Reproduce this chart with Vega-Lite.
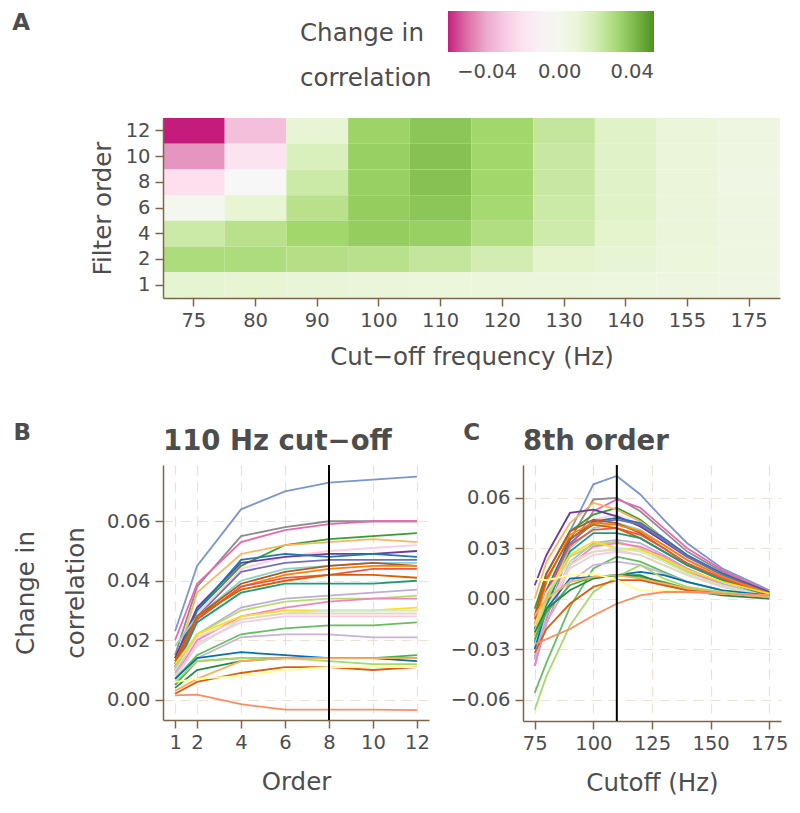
{
"$schema":"https://vega.github.io/schema/vega-lite/v6.json",
"background":"white",
"padding":{"left":12,"top":11,"right":10,"bottom":6},
"config":{"view":{"stroke":null},"font":"DejaVu Sans",
 "axis":{"domainColor":"#7d6549","domainWidth":1.5,"tickColor":"#7d6549","tickWidth":1.5,"tickSize":8,"labelColor":"#4d4d4d","labelFontSize":19.5,"titleFontSize":24.5,"titleFontWeight":"normal","titleColor":"#4d4d4d","gridColor":"#ede0d4","gridDash":[10,7],"gridWidth":1.2,"labelPadding":5},
 "title":{"fontWeight":"bold","color":"#4d4d4d"}},
"datasets":{
"heat":[
{"f":75,"o":12,"v":-0.0615},{"f":75,"o":10,"v":-0.045},{"f":75,"o":8,"v":-0.024},{"f":75,"o":6,"v":0.0},{"f":75,"o":4,"v":0.022},{"f":75,"o":2,"v":0.030},{"f":75,"o":1,"v":0.014},
{"f":80,"o":12,"v":-0.034},{"f":80,"o":10,"v":-0.021},{"f":80,"o":8,"v":-0.005},{"f":80,"o":6,"v":0.013},{"f":80,"o":4,"v":0.027},{"f":80,"o":2,"v":0.030},{"f":80,"o":1,"v":0.013},
{"f":90,"o":12,"v":0.012},{"f":90,"o":10,"v":0.018},{"f":90,"o":8,"v":0.022},{"f":90,"o":6,"v":0.027},{"f":90,"o":4,"v":0.033},{"f":90,"o":2,"v":0.028},{"f":90,"o":1,"v":0.011},
{"f":100,"o":12,"v":0.034},{"f":100,"o":10,"v":0.035},{"f":100,"o":8,"v":0.035},{"f":100,"o":6,"v":0.036},{"f":100,"o":4,"v":0.036},{"f":100,"o":2,"v":0.027},{"f":100,"o":1,"v":0.010},
{"f":110,"o":12,"v":0.038},{"f":110,"o":10,"v":0.039},{"f":110,"o":8,"v":0.039},{"f":110,"o":6,"v":0.038},{"f":110,"o":4,"v":0.035},{"f":110,"o":2,"v":0.024},{"f":110,"o":1,"v":0.009},
{"f":120,"o":12,"v":0.033},{"f":120,"o":10,"v":0.033},{"f":120,"o":8,"v":0.033},{"f":120,"o":6,"v":0.032},{"f":120,"o":4,"v":0.029},{"f":120,"o":2,"v":0.020},{"f":120,"o":1,"v":0.009},
{"f":130,"o":12,"v":0.024},{"f":130,"o":10,"v":0.023},{"f":130,"o":8,"v":0.023},{"f":130,"o":6,"v":0.022},{"f":130,"o":4,"v":0.021},{"f":130,"o":2,"v":0.015},{"f":130,"o":1,"v":0.008},
{"f":140,"o":12,"v":0.016},{"f":140,"o":10,"v":0.016},{"f":140,"o":8,"v":0.016},{"f":140,"o":6,"v":0.016},{"f":140,"o":4,"v":0.015},{"f":140,"o":2,"v":0.012},{"f":140,"o":1,"v":0.007},
{"f":155,"o":12,"v":0.010},{"f":155,"o":10,"v":0.010},{"f":155,"o":8,"v":0.010},{"f":155,"o":6,"v":0.010},{"f":155,"o":4,"v":0.010},{"f":155,"o":2,"v":0.009},{"f":155,"o":1,"v":0.006},
{"f":175,"o":12,"v":0.006},{"f":175,"o":10,"v":0.006},{"f":175,"o":8,"v":0.005},{"f":175,"o":6,"v":0.006},{"f":175,"o":4,"v":0.006},{"f":175,"o":2,"v":0.006},{"f":175,"o":1,"v":0.005}
],
"B":[
{"s":1,"x":1,"v":0.023},{"s":1,"x":2,"v":0.045},{"s":1,"x":4,"v":0.064},{"s":1,"x":6,"v":0.070},{"s":1,"x":8,"v":0.073},{"s":1,"x":10,"v":0.074},{"s":1,"x":12,"v":0.075},
{"s":2,"x":1,"v":0.015},{"s":2,"x":2,"v":0.038},{"s":2,"x":4,"v":0.055},{"s":2,"x":6,"v":0.058},{"s":2,"x":8,"v":0.060},{"s":2,"x":10,"v":0.060},{"s":2,"x":12,"v":0.060},
{"s":3,"x":1,"v":0.020},{"s":3,"x":2,"v":0.039},{"s":3,"x":4,"v":0.053},{"s":3,"x":6,"v":0.057},{"s":3,"x":8,"v":0.059},{"s":3,"x":10,"v":0.060},{"s":3,"x":12,"v":0.060},
{"s":4,"x":1,"v":0.014},{"s":4,"x":2,"v":0.030},{"s":4,"x":4,"v":0.045},{"s":4,"x":6,"v":0.052},{"s":4,"x":8,"v":0.054},{"s":4,"x":10,"v":0.055},{"s":4,"x":12,"v":0.056},
{"s":5,"x":1,"v":0.012},{"s":5,"x":2,"v":0.036},{"s":5,"x":4,"v":0.049},{"s":5,"x":6,"v":0.052},{"s":5,"x":8,"v":0.053},{"s":5,"x":10,"v":0.054},{"s":5,"x":12,"v":0.053},
{"s":6,"x":1,"v":0.013},{"s":6,"x":2,"v":0.029},{"s":6,"x":4,"v":0.044},{"s":6,"x":6,"v":0.048},{"s":6,"x":8,"v":0.050},{"s":6,"x":10,"v":0.051},{"s":6,"x":12,"v":0.052},
{"s":7,"x":1,"v":0.014},{"s":7,"x":2,"v":0.031},{"s":7,"x":4,"v":0.046},{"s":7,"x":6,"v":0.048},{"s":7,"x":8,"v":0.049},{"s":7,"x":10,"v":0.049},{"s":7,"x":12,"v":0.050},
{"s":8,"x":1,"v":0.012},{"s":8,"x":2,"v":0.030},{"s":8,"x":4,"v":0.047},{"s":8,"x":6,"v":0.049},{"s":8,"x":8,"v":0.048},{"s":8,"x":10,"v":0.049},{"s":8,"x":12,"v":0.048},
{"s":9,"x":1,"v":0.012},{"s":9,"x":2,"v":0.028},{"s":9,"x":4,"v":0.043},{"s":9,"x":6,"v":0.046},{"s":9,"x":8,"v":0.047},{"s":9,"x":10,"v":0.047},{"s":9,"x":12,"v":0.047},
{"s":10,"x":1,"v":0.018},{"s":10,"x":2,"v":0.028},{"s":10,"x":4,"v":0.040},{"s":10,"x":6,"v":0.044},{"s":10,"x":8,"v":0.045},{"s":10,"x":10,"v":0.046},{"s":10,"x":12,"v":0.046},
{"s":11,"x":1,"v":0.011},{"s":11,"x":2,"v":0.028},{"s":11,"x":4,"v":0.039},{"s":11,"x":6,"v":0.043},{"s":11,"x":8,"v":0.045},{"s":11,"x":10,"v":0.046},{"s":11,"x":12,"v":0.045},
{"s":12,"x":1,"v":0.010},{"s":12,"x":2,"v":0.027},{"s":12,"x":4,"v":0.038},{"s":12,"x":6,"v":0.042},{"s":12,"x":8,"v":0.044},{"s":12,"x":10,"v":0.045},{"s":12,"x":12,"v":0.045},
{"s":13,"x":1,"v":0.011},{"s":13,"x":2,"v":0.027},{"s":13,"x":4,"v":0.038},{"s":13,"x":6,"v":0.041},{"s":13,"x":8,"v":0.042},{"s":13,"x":10,"v":0.044},{"s":13,"x":12,"v":0.044},
{"s":14,"x":1,"v":0.013},{"s":14,"x":2,"v":0.028},{"s":14,"x":4,"v":0.037},{"s":14,"x":6,"v":0.040},{"s":14,"x":8,"v":0.042},{"s":14,"x":10,"v":0.042},{"s":14,"x":12,"v":0.041},
{"s":15,"x":1,"v":0.010},{"s":15,"x":2,"v":0.026},{"s":15,"x":4,"v":0.036},{"s":15,"x":6,"v":0.039},{"s":15,"x":8,"v":0.039},{"s":15,"x":10,"v":0.039},{"s":15,"x":12,"v":0.040},
{"s":16,"x":1,"v":0.009},{"s":16,"x":2,"v":0.022},{"s":16,"x":4,"v":0.031},{"s":16,"x":6,"v":0.034},{"s":16,"x":8,"v":0.035},{"s":16,"x":10,"v":0.036},{"s":16,"x":12,"v":0.037},
{"s":17,"x":1,"v":0.011},{"s":17,"x":2,"v":0.022},{"s":17,"x":4,"v":0.030},{"s":17,"x":6,"v":0.033},{"s":17,"x":8,"v":0.034},{"s":17,"x":10,"v":0.034},{"s":17,"x":12,"v":0.035},
{"s":18,"x":1,"v":0.008},{"s":18,"x":2,"v":0.020},{"s":18,"x":4,"v":0.028},{"s":18,"x":6,"v":0.031},{"s":18,"x":8,"v":0.033},{"s":18,"x":10,"v":0.034},{"s":18,"x":12,"v":0.034},
{"s":19,"x":1,"v":0.012},{"s":19,"x":2,"v":0.022},{"s":19,"x":4,"v":0.028},{"s":19,"x":6,"v":0.030},{"s":19,"x":8,"v":0.030},{"s":19,"x":10,"v":0.030},{"s":19,"x":12,"v":0.031},
{"s":20,"x":1,"v":0.008},{"s":20,"x":2,"v":0.018},{"s":20,"x":4,"v":0.027},{"s":20,"x":6,"v":0.029},{"s":20,"x":8,"v":0.030},{"s":20,"x":10,"v":0.030},{"s":20,"x":12,"v":0.030},
{"s":21,"x":1,"v":0.007},{"s":21,"x":2,"v":0.019},{"s":21,"x":4,"v":0.026},{"s":21,"x":6,"v":0.028},{"s":21,"x":8,"v":0.028},{"s":21,"x":10,"v":0.028},{"s":21,"x":12,"v":0.028},
{"s":22,"x":1,"v":0.010},{"s":22,"x":2,"v":0.021},{"s":22,"x":4,"v":0.027},{"s":22,"x":6,"v":0.029},{"s":22,"x":8,"v":0.029},{"s":22,"x":10,"v":0.029},{"s":22,"x":12,"v":0.029},
{"s":23,"x":1,"v":0.007},{"s":23,"x":2,"v":0.015},{"s":23,"x":4,"v":0.022},{"s":23,"x":6,"v":0.024},{"s":23,"x":8,"v":0.025},{"s":23,"x":10,"v":0.025},{"s":23,"x":12,"v":0.026},
{"s":24,"x":1,"v":0.005},{"s":24,"x":2,"v":0.014},{"s":24,"x":4,"v":0.021},{"s":24,"x":6,"v":0.022},{"s":24,"x":8,"v":0.022},{"s":24,"x":10,"v":0.021},{"s":24,"x":12,"v":0.021},
{"s":25,"x":1,"v":0.007},{"s":25,"x":2,"v":0.014},{"s":25,"x":4,"v":0.016},{"s":25,"x":6,"v":0.015},{"s":25,"x":8,"v":0.014},{"s":25,"x":10,"v":0.014},{"s":25,"x":12,"v":0.013},
{"s":26,"x":1,"v":0.005},{"s":26,"x":2,"v":0.013},{"s":26,"x":4,"v":0.014},{"s":26,"x":6,"v":0.014},{"s":26,"x":8,"v":0.014},{"s":26,"x":10,"v":0.014},{"s":26,"x":12,"v":0.015},
{"s":27,"x":1,"v":0.006},{"s":27,"x":2,"v":0.013},{"s":27,"x":4,"v":0.014},{"s":27,"x":6,"v":0.014},{"s":27,"x":8,"v":0.013},{"s":27,"x":10,"v":0.012},{"s":27,"x":12,"v":0.012},
{"s":28,"x":1,"v":0.004},{"s":28,"x":2,"v":0.010},{"s":28,"x":4,"v":0.013},{"s":28,"x":6,"v":0.014},{"s":28,"x":8,"v":0.014},{"s":28,"x":10,"v":0.014},{"s":28,"x":12,"v":0.014},
{"s":29,"x":1,"v":0.003},{"s":29,"x":2,"v":0.007},{"s":29,"x":4,"v":0.013},{"s":29,"x":6,"v":0.014},{"s":29,"x":8,"v":0.014},{"s":29,"x":10,"v":0.014},{"s":29,"x":12,"v":0.014},
{"s":30,"x":1,"v":0.002},{"s":30,"x":2,"v":0.006},{"s":30,"x":4,"v":0.009},{"s":30,"x":6,"v":0.011},{"s":30,"x":8,"v":0.011},{"s":30,"x":10,"v":0.010},{"s":30,"x":12,"v":0.011},
{"s":31,"x":1,"v":0.006},{"s":31,"x":2,"v":0.007},{"s":31,"x":4,"v":0.008},{"s":31,"x":6,"v":0.010},{"s":31,"x":8,"v":0.011},{"s":31,"x":10,"v":0.011},{"s":31,"x":12,"v":0.011},
{"s":32,"x":1,"v":0.0015},{"s":32,"x":2,"v":0.0017},{"s":32,"x":4,"v":-0.0015},{"s":32,"x":6,"v":-0.0033},{"s":32,"x":8,"v":-0.0033},{"s":32,"x":10,"v":-0.0033},{"s":32,"x":12,"v":-0.0035}
],
"C":[
{"s":1,"x":75,"v":-0.036},{"s":1,"x":80,"v":-0.010},{"s":1,"x":90,"v":0.040},{"s":1,"x":100,"v":0.068},{"s":1,"x":110,"v":0.073},{"s":1,"x":120,"v":0.062},{"s":1,"x":130,"v":0.047},{"s":1,"x":140,"v":0.033},{"s":1,"x":155,"v":0.018},{"s":1,"x":175,"v":0.005},
{"s":2,"x":75,"v":-0.030},{"s":2,"x":80,"v":-0.005},{"s":2,"x":90,"v":0.035},{"s":2,"x":100,"v":0.059},{"s":2,"x":110,"v":0.060},{"s":2,"x":120,"v":0.052},{"s":2,"x":130,"v":0.040},{"s":2,"x":140,"v":0.028},{"s":2,"x":155,"v":0.016},{"s":2,"x":175,"v":0.004},
{"s":3,"x":75,"v":-0.040},{"s":3,"x":80,"v":-0.012},{"s":3,"x":90,"v":0.030},{"s":3,"x":100,"v":0.052},{"s":3,"x":110,"v":0.059},{"s":3,"x":120,"v":0.054},{"s":3,"x":130,"v":0.042},{"s":3,"x":140,"v":0.030},{"s":3,"x":155,"v":0.017},{"s":3,"x":175,"v":0.004},
{"s":4,"x":75,"v":-0.006},{"s":4,"x":80,"v":0.015},{"s":4,"x":90,"v":0.040},{"s":4,"x":100,"v":0.050},{"s":4,"x":110,"v":0.054},{"s":4,"x":120,"v":0.047},{"s":4,"x":130,"v":0.036},{"s":4,"x":140,"v":0.025},{"s":4,"x":155,"v":0.014},{"s":4,"x":175,"v":0.002},
{"s":5,"x":75,"v":0.000},{"s":5,"x":80,"v":0.022},{"s":5,"x":90,"v":0.045},{"s":5,"x":100,"v":0.057},{"s":5,"x":110,"v":0.053},{"s":5,"x":120,"v":0.046},{"s":5,"x":130,"v":0.036},{"s":5,"x":140,"v":0.026},{"s":5,"x":155,"v":0.015},{"s":5,"x":175,"v":0.004},
{"s":6,"x":75,"v":-0.025},{"s":6,"x":80,"v":0.000},{"s":6,"x":90,"v":0.032},{"s":6,"x":100,"v":0.047},{"s":6,"x":110,"v":0.050},{"s":6,"x":120,"v":0.044},{"s":6,"x":130,"v":0.034},{"s":6,"x":140,"v":0.024},{"s":6,"x":155,"v":0.013},{"s":6,"x":175,"v":0.003},
{"s":7,"x":75,"v":0.008},{"s":7,"x":80,"v":0.026},{"s":7,"x":90,"v":0.051},{"s":7,"x":100,"v":0.053},{"s":7,"x":110,"v":0.049},{"s":7,"x":120,"v":0.043},{"s":7,"x":130,"v":0.034},{"s":7,"x":140,"v":0.025},{"s":7,"x":155,"v":0.015},{"s":7,"x":175,"v":0.004},
{"s":8,"x":75,"v":-0.018},{"s":8,"x":80,"v":0.005},{"s":8,"x":90,"v":0.035},{"s":8,"x":100,"v":0.046},{"s":8,"x":110,"v":0.048},{"s":8,"x":120,"v":0.045},{"s":8,"x":130,"v":0.036},{"s":8,"x":140,"v":0.026},{"s":8,"x":155,"v":0.015},{"s":8,"x":175,"v":0.003},
{"s":9,"x":75,"v":-0.022},{"s":9,"x":80,"v":0.002},{"s":9,"x":90,"v":0.033},{"s":9,"x":100,"v":0.045},{"s":9,"x":110,"v":0.047},{"s":9,"x":120,"v":0.044},{"s":9,"x":130,"v":0.035},{"s":9,"x":140,"v":0.025},{"s":9,"x":155,"v":0.014},{"s":9,"x":175,"v":0.003},
{"s":10,"x":75,"v":-0.026},{"s":10,"x":80,"v":-0.002},{"s":10,"x":90,"v":0.030},{"s":10,"x":100,"v":0.042},{"s":10,"x":110,"v":0.045},{"s":10,"x":120,"v":0.041},{"s":10,"x":130,"v":0.032},{"s":10,"x":140,"v":0.023},{"s":10,"x":155,"v":0.013},{"s":10,"x":175,"v":0.002},
{"s":11,"x":75,"v":-0.010},{"s":11,"x":80,"v":0.015},{"s":11,"x":90,"v":0.040},{"s":11,"x":100,"v":0.047},{"s":11,"x":110,"v":0.045},{"s":11,"x":120,"v":0.039},{"s":11,"x":130,"v":0.030},{"s":11,"x":140,"v":0.021},{"s":11,"x":155,"v":0.012},{"s":11,"x":175,"v":0.002},
{"s":12,"x":75,"v":-0.015},{"s":12,"x":80,"v":0.010},{"s":12,"x":90,"v":0.038},{"s":12,"x":100,"v":0.045},{"s":12,"x":110,"v":0.044},{"s":12,"x":120,"v":0.040},{"s":12,"x":130,"v":0.032},{"s":12,"x":140,"v":0.023},{"s":12,"x":155,"v":0.013},{"s":12,"x":175,"v":0.003},
{"s":13,"x":75,"v":-0.020},{"s":13,"x":80,"v":0.004},{"s":13,"x":90,"v":0.032},{"s":13,"x":100,"v":0.041},{"s":13,"x":110,"v":0.042},{"s":13,"x":120,"v":0.038},{"s":13,"x":130,"v":0.030},{"s":13,"x":140,"v":0.021},{"s":13,"x":155,"v":0.012},{"s":13,"x":175,"v":0.002},
{"s":14,"x":75,"v":-0.012},{"s":14,"x":80,"v":0.012},{"s":14,"x":90,"v":0.036},{"s":14,"x":100,"v":0.044},{"s":14,"x":110,"v":0.042},{"s":14,"x":120,"v":0.036},{"s":14,"x":130,"v":0.028},{"s":14,"x":140,"v":0.020},{"s":14,"x":155,"v":0.011},{"s":14,"x":175,"v":0.002},
{"s":15,"x":75,"v":-0.026},{"s":15,"x":80,"v":-0.004},{"s":15,"x":90,"v":0.028},{"s":15,"x":100,"v":0.039},{"s":15,"x":110,"v":0.039},{"s":15,"x":120,"v":0.036},{"s":15,"x":130,"v":0.028},{"s":15,"x":140,"v":0.020},{"s":15,"x":155,"v":0.011},{"s":15,"x":175,"v":0.001},
{"s":16,"x":75,"v":-0.034},{"s":16,"x":80,"v":-0.010},{"s":16,"x":90,"v":0.022},{"s":16,"x":100,"v":0.033},{"s":16,"x":110,"v":0.035},{"s":16,"x":120,"v":0.033},{"s":16,"x":130,"v":0.026},{"s":16,"x":140,"v":0.018},{"s":16,"x":155,"v":0.009},{"s":16,"x":175,"v":0.001},
{"s":17,"x":75,"v":-0.022},{"s":17,"x":80,"v":0.000},{"s":17,"x":90,"v":0.025},{"s":17,"x":100,"v":0.032},{"s":17,"x":110,"v":0.034},{"s":17,"x":120,"v":0.030},{"s":17,"x":130,"v":0.023},{"s":17,"x":140,"v":0.016},{"s":17,"x":155,"v":0.008},{"s":17,"x":175,"v":0.001},
{"s":18,"x":75,"v":-0.040},{"s":18,"x":80,"v":-0.015},{"s":18,"x":90,"v":0.020},{"s":18,"x":100,"v":0.031},{"s":18,"x":110,"v":0.033},{"s":18,"x":120,"v":0.031},{"s":18,"x":130,"v":0.025},{"s":18,"x":140,"v":0.017},{"s":18,"x":155,"v":0.008},{"s":18,"x":175,"v":0.000},
{"s":19,"x":75,"v":-0.020},{"s":19,"x":80,"v":0.003},{"s":19,"x":90,"v":0.026},{"s":19,"x":100,"v":0.034},{"s":19,"x":110,"v":0.030},{"s":19,"x":120,"v":0.029},{"s":19,"x":130,"v":0.024},{"s":19,"x":140,"v":0.017},{"s":19,"x":155,"v":0.010},{"s":19,"x":175,"v":0.003},
{"s":20,"x":75,"v":-0.028},{"s":20,"x":80,"v":-0.006},{"s":20,"x":90,"v":0.020},{"s":20,"x":100,"v":0.028},{"s":20,"x":110,"v":0.030},{"s":20,"x":120,"v":0.028},{"s":20,"x":130,"v":0.022},{"s":20,"x":140,"v":0.015},{"s":20,"x":155,"v":0.008},{"s":20,"x":175,"v":0.001},
{"s":21,"x":75,"v":-0.030},{"s":21,"x":80,"v":-0.008},{"s":21,"x":90,"v":0.018},{"s":21,"x":100,"v":0.026},{"s":21,"x":110,"v":0.028},{"s":21,"x":120,"v":0.026},{"s":21,"x":130,"v":0.020},{"s":21,"x":140,"v":0.014},{"s":21,"x":155,"v":0.007},{"s":21,"x":175,"v":0.000},
{"s":22,"x":75,"v":-0.016},{"s":22,"x":80,"v":0.004},{"s":22,"x":90,"v":0.022},{"s":22,"x":100,"v":0.028},{"s":22,"x":110,"v":0.029},{"s":22,"x":120,"v":0.026},{"s":22,"x":130,"v":0.020},{"s":22,"x":140,"v":0.014},{"s":22,"x":155,"v":0.007},{"s":22,"x":175,"v":0.001},
{"s":23,"x":75,"v":-0.056},{"s":23,"x":80,"v":-0.038},{"s":23,"x":90,"v":-0.005},{"s":23,"x":100,"v":0.018},{"s":23,"x":110,"v":0.025},{"s":23,"x":120,"v":0.022},{"s":23,"x":130,"v":0.016},{"s":23,"x":140,"v":0.010},{"s":23,"x":155,"v":0.005},{"s":23,"x":175,"v":0.001},
{"s":24,"x":75,"v":-0.036},{"s":24,"x":80,"v":-0.014},{"s":24,"x":90,"v":0.010},{"s":24,"x":100,"v":0.020},{"s":24,"x":110,"v":0.022},{"s":24,"x":120,"v":0.020},{"s":24,"x":130,"v":0.015},{"s":24,"x":140,"v":0.010},{"s":24,"x":155,"v":0.005},{"s":24,"x":175,"v":0.000},
{"s":25,"x":75,"v":-0.030},{"s":25,"x":80,"v":-0.006},{"s":25,"x":90,"v":0.012},{"s":25,"x":100,"v":0.013},{"s":25,"x":110,"v":0.014},{"s":25,"x":120,"v":0.016},{"s":25,"x":130,"v":0.014},{"s":25,"x":140,"v":0.010},{"s":25,"x":155,"v":0.005},{"s":25,"x":175,"v":0.002},
{"s":26,"x":75,"v":-0.024},{"s":26,"x":80,"v":-0.008},{"s":26,"x":90,"v":0.008},{"s":26,"x":100,"v":0.013},{"s":26,"x":110,"v":0.014},{"s":26,"x":120,"v":0.013},{"s":26,"x":130,"v":0.010},{"s":26,"x":140,"v":0.006},{"s":26,"x":155,"v":0.003},{"s":26,"x":175,"v":0.001},
{"s":27,"x":75,"v":-0.066},{"s":27,"x":80,"v":-0.046},{"s":27,"x":90,"v":-0.016},{"s":27,"x":100,"v":0.004},{"s":27,"x":110,"v":0.013},{"s":27,"x":120,"v":0.020},{"s":27,"x":130,"v":0.012},{"s":27,"x":140,"v":0.007},{"s":27,"x":155,"v":0.004},{"s":27,"x":175,"v":0.001},
{"s":28,"x":75,"v":-0.020},{"s":28,"x":80,"v":-0.006},{"s":28,"x":90,"v":0.005},{"s":28,"x":100,"v":0.012},{"s":28,"x":110,"v":0.014},{"s":28,"x":120,"v":0.014},{"s":28,"x":130,"v":0.009},{"s":28,"x":140,"v":0.005},{"s":28,"x":155,"v":0.002},{"s":28,"x":175,"v":0.000},
{"s":29,"x":75,"v":-0.010},{"s":29,"x":80,"v":0.000},{"s":29,"x":90,"v":0.010},{"s":29,"x":100,"v":0.013},{"s":29,"x":110,"v":0.014},{"s":29,"x":120,"v":0.012},{"s":29,"x":130,"v":0.009},{"s":29,"x":140,"v":0.006},{"s":29,"x":155,"v":0.003},{"s":29,"x":175,"v":0.001},
{"s":30,"x":75,"v":-0.032},{"s":30,"x":80,"v":-0.018},{"s":30,"x":90,"v":-0.003},{"s":30,"x":100,"v":0.007},{"s":30,"x":110,"v":0.011},{"s":30,"x":120,"v":0.011},{"s":30,"x":130,"v":0.008},{"s":30,"x":140,"v":0.005},{"s":30,"x":155,"v":0.003},{"s":30,"x":175,"v":0.002},
{"s":31,"x":75,"v":0.012},{"s":31,"x":80,"v":0.011},{"s":31,"x":90,"v":0.014},{"s":31,"x":100,"v":0.015},{"s":31,"x":110,"v":0.011},{"s":31,"x":120,"v":0.005},{"s":31,"x":130,"v":0.005},{"s":31,"x":140,"v":0.004},{"s":31,"x":155,"v":0.003},{"s":31,"x":175,"v":0.002},
{"s":32,"x":75,"v":-0.027},{"s":32,"x":80,"v":-0.024},{"s":32,"x":90,"v":-0.018},{"s":32,"x":100,"v":-0.010},{"s":32,"x":110,"v":-0.003},{"s":32,"x":120,"v":0.002},{"s":32,"x":130,"v":0.004},{"s":32,"x":140,"v":0.004},{"s":32,"x":155,"v":0.003},{"s":32,"x":175,"v":0.002}
]
},
"spacing":52,
"vconcat":[
{
 "data":{"name":"heat"},
 "width":617,"height":180,
 "title":{"text":"A","anchor":"start","frame":"bounds","fontSize":23,"dx":-78,"dy":28},
 "mark":{"type":"rect"},
 "encoding":{
  "x":{"field":"f","type":"ordinal","sort":[75,80,90,100,110,120,130,140,155,175],"scale":{"paddingInner":0,"paddingOuter":0},"axis":{"title":"Cut−off frequency (Hz)","labelAngle":0,"grid":false,"titlePadding":16}},
  "y":{"field":"o","type":"ordinal","sort":"descending","scale":{"paddingInner":0,"paddingOuter":0},"axis":{"title":"Filter order","grid":false,"titlePadding":10}},
  "color":{"field":"v","type":"quantitative",
   "scale":{"domain":[-0.0615,-0.04255,-0.0236,-0.00465,0.0143,0.03325,0.052],"range":["#c51b7d","#e9a3c9","#fde0ef","#f7f7f7","#e6f5d0","#a1d76a","#4d9221"],"interpolate":"lab"},
   "legend":{"orient":"none","legendX":137,"legendY":-107,"direction":"horizontal","gradientLength":206,"gradientThickness":41,"values":[-0.04,0,0.04],"format":".2f","title":["Change in","correlation"],"titleOrient":"left","titleAnchor":"start","titleBaseline":"line-top","titleFontSize":24.5,"titleFontWeight":"normal","titleColor":"#4d4d4d","titleLineHeight":45,"titlePadding":16,"labelFontSize":19.5,"labelColor":"#4d4d4d","labelOffset":11,"gradientStrokeWidth":0}}
 }
},
{
 "spacing":20,
 "hconcat":[
  {
   "title":{"text":"B","anchor":"start","frame":"bounds","fontSize":23,"dy":21},
   "vconcat":[{
    "width":266,"height":255,
    "title":{"text":"110 Hz cut−off","anchor":"start","frame":"group","fontSize":27.5,"offset":9},
    "layer":[
     {"data":{"name":"B"},"mark":{"type":"line","strokeWidth":1.8},
      "encoding":{
       "x":{"field":"x","type":"quantitative","scale":{"domain":[0.45,12.55],"nice":false,"zero":false},"axis":{"values":[1,2,4,6,8,10,12],"title":"Order","titlePadding":19}},
       "y":{"field":"v","type":"quantitative","scale":{"domain":[-0.0068,0.0789],"nice":false,"zero":false},"axis":{"values":[0,0.02,0.04,0.06],"format":".2f","title":["Change in","correlation"],"titleLineHeight":50,"titlePadding":18}},
       "color":{"field":"s","type":"nominal","legend":null,"scale":{"domain":[1,2,3,4,5,6,7,8,9,10,11,12,13,14,15,16,17,18,19,20,21,22,23,24,25,26,27,28,29,30,31,32],"range":["#7b95cf","#8c8c8c","#e769b4","#33a02c","#fdb462","#fbcce4","#6a3d9a","#1f78b4","#7570b3","#8dd3c7","#b15928","#ff7f00","#e8574a","#d95f02","#1b9e77","#beaed4","#b3de69","#f781bf","#ffd92f","#ccebc5","#f4cae4","#e5d8bd","#66bd63","#cab2d6","#0570b0","#4daf4a","#a6d96a","#238b45","#fdae61","#d95f0e","#ffff99","#fc8d62"]}}
      }},
     {"data":{"values":[{"x":8}]},"mark":{"type":"rule","color":"black","strokeWidth":2},"encoding":{"x":{"field":"x","type":"quantitative"}}}
    ]
   }]
  },
  {
   "title":{"text":"C","anchor":"start","frame":"bounds","fontSize":23,"dy":21,"dx":13},
   "vconcat":[{
    "width":258,"height":256,
    "title":{"text":"8th order","anchor":"start","frame":"group","fontSize":27.5,"offset":9},
    "layer":[
     {"data":{"name":"C"},"mark":{"type":"line","strokeWidth":1.8},
      "encoding":{
       "x":{"field":"x","type":"quantitative","scale":{"domain":[70,180],"nice":false,"zero":false},"axis":{"values":[75,100,125,150,175],"title":"Cutoff (Hz)","titlePadding":19}},
       "y":{"field":"v","type":"quantitative","scale":{"domain":[-0.0727,0.0795],"nice":false,"zero":false},"axis":{"values":[-0.06,-0.03,0,0.03,0.06],"format":".2f","title":null}},
       "color":{"field":"s","type":"nominal","legend":null,"scale":{"domain":[1,2,3,4,5,6,7,8,9,10,11,12,13,14,15,16,17,18,19,20,21,22,23,24,25,26,27,28,29,30,31,32],"range":["#7b95cf","#8c8c8c","#e769b4","#33a02c","#fdb462","#fbcce4","#6a3d9a","#1f78b4","#7570b3","#8dd3c7","#b15928","#ff7f00","#e8574a","#d95f02","#1b9e77","#beaed4","#b3de69","#f781bf","#ffd92f","#ccebc5","#f4cae4","#e5d8bd","#66bd63","#cab2d6","#0570b0","#4daf4a","#a6d96a","#238b45","#fdae61","#d95f0e","#ffff99","#fc8d62"]}}
      }},
     {"data":{"values":[{"x":110}]},"mark":{"type":"rule","color":"black","strokeWidth":2},"encoding":{"x":{"field":"x","type":"quantitative"}}}
    ]
   }]
  }
 ],
 "resolve":{"scale":{"color":"shared"}}
}
]
}
